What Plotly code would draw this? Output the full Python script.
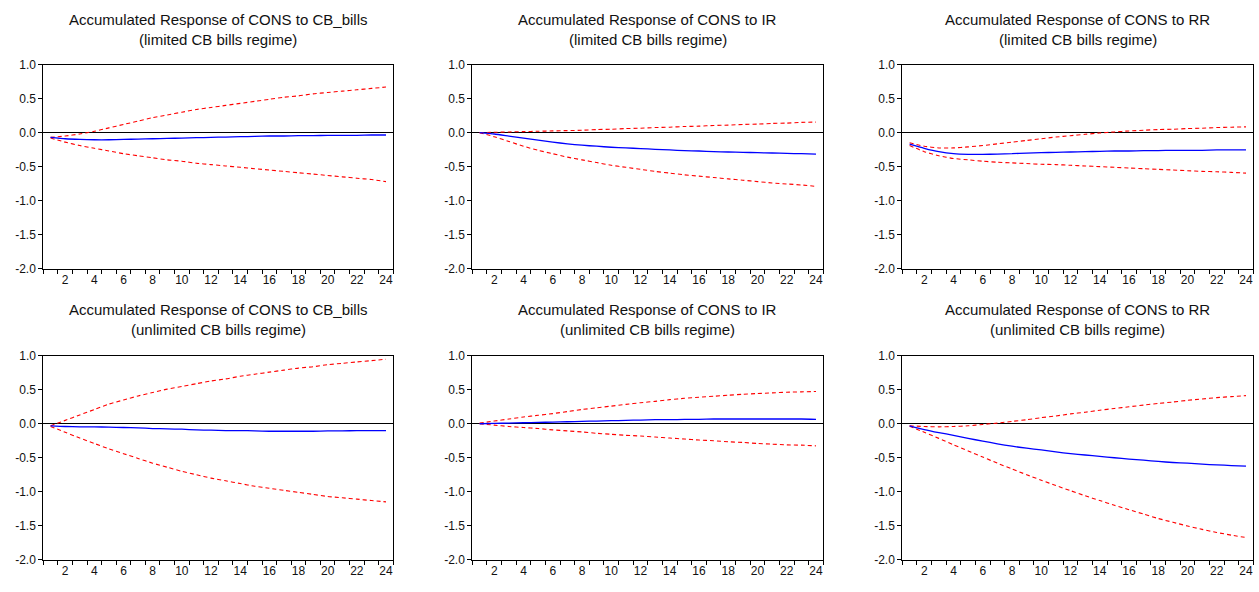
import plotly.graph_objects as go

periods = list(range(1, 25))

# Panel 1: CONS to CB_bills (limited)
p1_resp = [-0.07,-0.09,-0.10,-0.105,-0.105,-0.10,-0.095,-0.09,-0.085,-0.08,-0.075,-0.07,-0.065,-0.06,-0.055,-0.05,-0.05,-0.045,-0.045,-0.04,-0.04,-0.04,-0.035,-0.035]
p1_up = [-0.07,-0.05,-0.02,0.02,0.07,0.12,0.17,0.22,0.26,0.30,0.34,0.37,0.40,0.43,0.46,0.49,0.52,0.54,0.57,0.59,0.61,0.63,0.65,0.67]
p1_lo = [-0.08,-0.14,-0.19,-0.23,-0.27,-0.31,-0.34,-0.37,-0.40,-0.42,-0.45,-0.47,-0.49,-0.51,-0.53,-0.55,-0.57,-0.59,-0.61,-0.63,-0.65,-0.67,-0.69,-0.72]

# Panel 2: CONS to IR (limited)
p2_resp = [0.0,-0.02,-0.05,-0.08,-0.11,-0.14,-0.165,-0.185,-0.20,-0.215,-0.225,-0.235,-0.245,-0.255,-0.265,-0.27,-0.28,-0.285,-0.29,-0.295,-0.30,-0.305,-0.31,-0.315]
p2_up = [0.0,0.005,0.01,0.015,0.02,0.025,0.03,0.035,0.045,0.05,0.06,0.065,0.075,0.08,0.09,0.095,0.105,0.11,0.12,0.125,0.135,0.14,0.15,0.155]
p2_lo = [0.0,-0.06,-0.13,-0.20,-0.26,-0.31,-0.36,-0.40,-0.44,-0.48,-0.51,-0.54,-0.57,-0.595,-0.62,-0.64,-0.66,-0.68,-0.70,-0.72,-0.74,-0.755,-0.77,-0.79]

# Panel 3: CONS to RR (limited)
p3_resp = [-0.17,-0.23,-0.28,-0.31,-0.32,-0.32,-0.315,-0.31,-0.30,-0.295,-0.29,-0.285,-0.28,-0.275,-0.27,-0.27,-0.265,-0.265,-0.26,-0.26,-0.26,-0.255,-0.255,-0.255]
p3_up = [-0.15,-0.20,-0.225,-0.225,-0.21,-0.19,-0.165,-0.14,-0.115,-0.09,-0.065,-0.045,-0.025,-0.005,0.01,0.025,0.035,0.045,0.05,0.06,0.065,0.075,0.08,0.085]
p3_lo = [-0.19,-0.28,-0.34,-0.38,-0.40,-0.42,-0.435,-0.445,-0.455,-0.465,-0.47,-0.48,-0.49,-0.50,-0.51,-0.52,-0.53,-0.54,-0.55,-0.56,-0.57,-0.575,-0.585,-0.595]

# Panel 4: CONS to CB_bills (unlimited)
p4_resp = [-0.03,-0.04,-0.045,-0.045,-0.05,-0.055,-0.06,-0.07,-0.075,-0.08,-0.09,-0.095,-0.10,-0.10,-0.105,-0.11,-0.11,-0.11,-0.11,-0.105,-0.105,-0.10,-0.10,-0.10]
p4_up = [-0.03,0.05,0.13,0.21,0.29,0.35,0.41,0.46,0.51,0.55,0.59,0.63,0.66,0.70,0.73,0.76,0.79,0.82,0.84,0.87,0.89,0.91,0.93,0.95]
p4_lo = [-0.04,-0.125,-0.21,-0.29,-0.37,-0.44,-0.51,-0.58,-0.64,-0.70,-0.75,-0.80,-0.84,-0.88,-0.92,-0.95,-0.98,-1.01,-1.04,-1.07,-1.09,-1.11,-1.13,-1.15]

# Panel 5: CONS to IR (unlimited)
p5_resp = [0.0,0.005,0.01,0.015,0.02,0.025,0.03,0.035,0.04,0.045,0.05,0.055,0.06,0.06,0.065,0.065,0.07,0.07,0.07,0.07,0.07,0.07,0.07,0.065]
p5_up = [0.01,0.04,0.07,0.10,0.125,0.15,0.18,0.21,0.235,0.26,0.285,0.31,0.33,0.355,0.375,0.39,0.405,0.42,0.435,0.445,0.455,0.465,0.47,0.475]
p5_lo = [0.0,-0.02,-0.04,-0.055,-0.07,-0.09,-0.105,-0.12,-0.14,-0.155,-0.17,-0.18,-0.195,-0.21,-0.225,-0.24,-0.25,-0.265,-0.275,-0.29,-0.30,-0.31,-0.315,-0.325]

# Panel 6: CONS to RR (unlimited)
p6_resp = [-0.03,-0.085,-0.13,-0.17,-0.215,-0.255,-0.295,-0.33,-0.36,-0.385,-0.415,-0.44,-0.46,-0.48,-0.50,-0.52,-0.535,-0.555,-0.57,-0.58,-0.595,-0.605,-0.615,-0.625]
p6_up = [-0.03,-0.04,-0.045,-0.04,-0.03,-0.01,0.01,0.035,0.06,0.09,0.115,0.145,0.17,0.20,0.225,0.25,0.275,0.30,0.32,0.345,0.365,0.385,0.40,0.415]
p6_lo = [-0.035,-0.125,-0.215,-0.31,-0.40,-0.49,-0.58,-0.665,-0.75,-0.83,-0.91,-0.985,-1.06,-1.13,-1.20,-1.265,-1.33,-1.395,-1.45,-1.505,-1.555,-1.60,-1.64,-1.675]

titles_line1 = ["Accumulated Response of CONS to CB_bills",
                "Accumulated Response of CONS to IR",
                "Accumulated Response of CONS to RR"] * 2
titles_line2 = ["(limited CB bills regime)"] * 3 + ["(unlimited CB bills regime)"] * 3

y_ticks = [1.0, 0.5, 0.0, -0.5, -1.0, -1.5, -2.0]
x_labels = list(range(2, 25, 2))

panels = [(p1_resp, p1_up, p1_lo), (p2_resp, p2_up, p2_lo), (p3_resp, p3_up, p3_lo),
          (p4_resp, p4_up, p4_lo), (p5_resp, p5_up, p5_lo), (p6_resp, p6_up, p6_lo)]

W, H = 1259, 592
x_px = [(43.3, 393.3), (472.3, 823.3), (902.3, 1253.3)]
y_px = [(59, 268), (357.3, 566)]
title_y_px = [(13, 33), (310, 330)]

FONT = "Arial, Liberation Sans, sans-serif"

fig = go.Figure()
layout = dict(
    width=W, height=H,
    margin=dict(l=0, r=0, t=0, b=0),
    paper_bgcolor="white", plot_bgcolor="white",
    showlegend=False,
    font=dict(family=FONT, color="#111111"),
)
annotations = []

for i, (resp, up, lo) in enumerate(panels):
    row, col = divmod(i, 3)
    n = i + 1
    xa = "x" if n == 1 else f"x{n}"
    ya = "y" if n == 1 else f"y{n}"
    for series, color, dash, width in [(up, "#ff0000", "4px,3px", 1.1),
                                       (lo, "#ff0000", "4px,3px", 1.1),
                                       (resp, "#0000ff", "solid", 1.3)]:
        fig.add_trace(go.Scatter(x=periods, y=series, mode="lines",
                                 line=dict(color=color, dash=dash, width=width, shape="spline", smoothing=0.6),
                                 xaxis=xa, yaxis=ya, hoverinfo="skip"))
    x0, x1 = x_px[col]
    yt, yb = y_px[row]
    layout["xaxis" if n == 1 else f"xaxis{n}"] = dict(
        domain=[x0 / W, x1 / W], anchor=ya, range=[0.5, 24.5],
        tickmode="array", tickvals=x_labels, ticktext=[str(v) for v in x_labels],
        ticks="", showgrid=False, zeroline=False,
        showline=True, mirror=True, linecolor="black", linewidth=1,
        tickfont=dict(size=12, family=FONT, color="#111111"),
        minor=dict(tickmode="array", tickvals=[k + 0.5 for k in range(0, 25)],
                   ticks="outside", ticklen=4, tickcolor="black", tickwidth=1,
                   showgrid=False),
        fixedrange=True,
    )
    layout["yaxis" if n == 1 else f"yaxis{n}"] = dict(
        domain=[1 - yb / H, 1 - yt / H], anchor=xa, range=[-2.0, 1.0],
        tickmode="array", tickvals=y_ticks, ticktext=[f"{v:.1f}" for v in y_ticks],
        ticks="outside", ticklen=4, tickcolor="black", tickwidth=1,
        showgrid=False, zeroline=True, zerolinecolor="black", zerolinewidth=1,
        showline=True, mirror=True, linecolor="black", linewidth=1,
        tickfont=dict(size=12, family=FONT, color="#111111"),
        fixedrange=True,
    )
    cx = (x0 + x1) / 2 / W
    l1y, l2y = title_y_px[row]
    annotations.append(dict(text=titles_line1[i], x=cx, y=1 - l1y / H, xref="paper", yref="paper",
                            xanchor="center", yanchor="middle", showarrow=False,
                            font=dict(size=15, family=FONT, color="#111111")))
    annotations.append(dict(text=titles_line2[i], x=cx, y=1 - l2y / H, xref="paper", yref="paper",
                            xanchor="center", yanchor="middle", showarrow=False,
                            font=dict(size=15, family=FONT, color="#111111")))

layout["annotations"] = annotations
fig.update_layout(**layout)

post_js = (
    "document.documentElement.style.margin='0';"
    "document.documentElement.style.overflow='hidden';"
    "document.body.style.margin='0';"
    "document.body.style.padding='0';"
    "document.body.style.overflow='hidden';"
    "var gd=document.getElementById('{plot_id}');"
    "gd.style.position='fixed';gd.style.left='0px';gd.style.top='0px';"
)
fig.write_html("out.html", config={"displayModeBar": False, "staticPlot": True},
               post_script=post_js)
